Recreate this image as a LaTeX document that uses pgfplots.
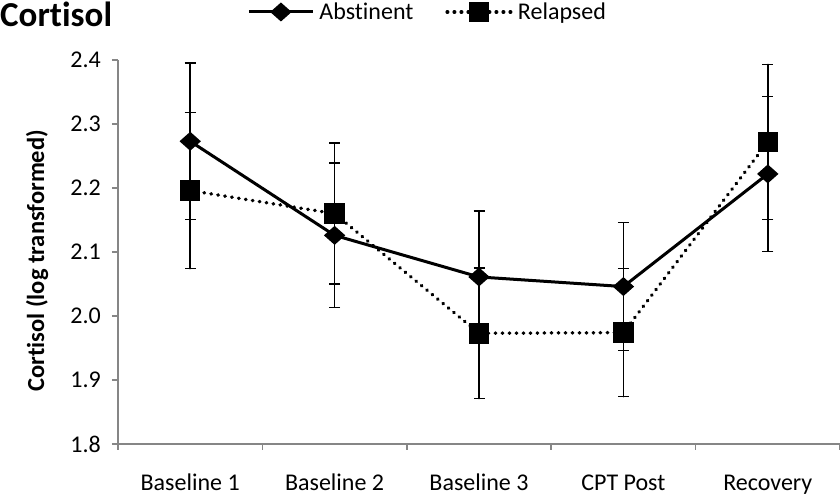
\documentclass[border=0pt]{standalone}
\usepackage{pgfplots}
\pgfplotsset{compat=1.18}
\usepackage{fontspec}
\setmainfont{Carlito}[Ligatures=NoCommon]
\definecolor{axgray}{RGB}{134,134,134}
\pgfplotstableread{
x y e
0 2.273 0.122
1 2.126 0.113
2 2.061 0.103
3 2.046 0.100
4 2.222 0.121
}\abst
\pgfplotstableread{
x y e
0 2.196 0.122
1 2.160 0.110
2 1.973 0.102
3 1.974 0.100
4 2.272 0.121
}\rel
\pgfplotsset{myerr/.style={
  error bars/y dir=both, error bars/y explicit,
  error bars/error bar style={line width=1.5pt, solid, black},
  error bars/error mark options={rotate=90, mark size=5.5pt, line width=1.5pt, solid, black, xscale=1}}}
\begin{document}
\begin{tikzpicture}
\begin{axis}[
  at={(0,0)}, anchor=south west,
  scale only axis, width=722pt, height=384pt,
  xmin=-0.5, xmax=4.5, ymin=1.8, ymax=2.4,
  axis lines*=left,
  axis line style={axgray, line width=1.5pt},
  tick align=outside,
  tick style={axgray, line width=1.5pt},
  major tick length=6pt,
  xtick={-0.5,0.5,1.5,2.5,3.5,4.5},
  xticklabels={},
  extra x ticks={0,1,2,3,4},
  extra x tick labels={Baseline 1,Baseline 2,Baseline 3,CPT Post,Recovery},
  extra x tick style={major tick length=0pt},
  xticklabel style={anchor=base, yshift=-47pt, inner sep=0pt},
  ytick={1.8,1.9,2.0,2.1,2.2,2.3,2.4},
  yticklabel style={anchor=east, inner sep=0pt, xshift=-11pt,
    /pgf/number format/fixed, /pgf/number format/fixed zerofill,
    /pgf/number format/precision=1, /pgf/number format/assume math mode=true},
  tick label style={font=\fontsize{24}{28}\selectfont},
  ylabel={Cortisol (log transformed)},
  ylabel style={at={(axis description cs:-0.112,0.477)}, anchor=center, font=\bfseries\fontsize{24.5}{28}\selectfont},
  legend style={at={(0.431,1.125)}, anchor=center, draw=none, fill=none,
    legend columns=2, font=\fontsize{24}{28}\selectfont,
    nodes={inner xsep=5pt},
    /tikz/every even column/.append style={column sep=27pt}},
  legend image code/.code={\draw[mark repeat=2,mark phase=2,#1] plot coordinates {(0pt,0pt) (32pt,0pt) (64pt,0pt)};},
]
\addplot[black, line width=3pt, mark=diamond*, mark size=7.5pt, mark options={solid, xscale=1.5}, myerr]
  table[x=x, y=y, y error=e] {\abst};
\addlegendentry{Abstinent}
\addplot[black, line width=3.5pt, line cap=round, dash pattern=on 0.5pt off 6.5pt, mark=square*, mark size=8.5pt, mark options={solid}, myerr]
  table[x=x, y=y, y error=e] {\rel};
\addlegendentry{Relapsed}
\end{axis}
\node[anchor=north west, inner sep=0pt, font=\bfseries\fontsize{35}{40}\selectfont] at (-118pt,442pt) {Cortisol};
\pgfresetboundingbox
\path (-118pt,-53pt) rectangle (722pt,444pt);
\end{tikzpicture}
\end{document}
